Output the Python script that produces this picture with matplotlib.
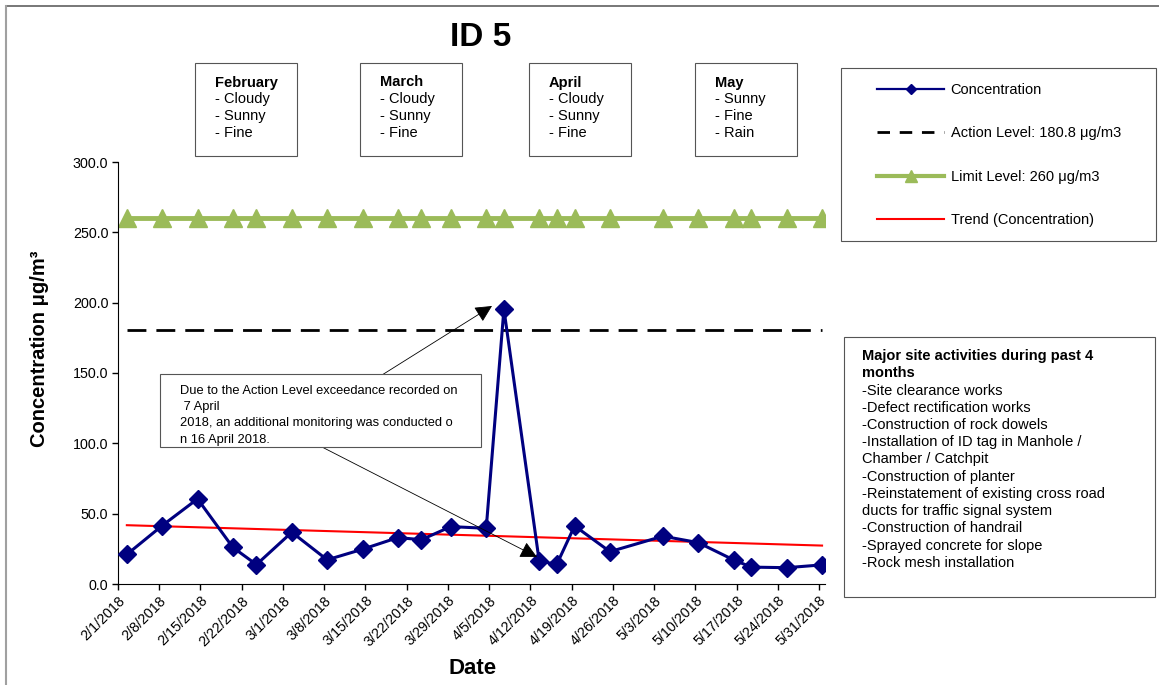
import matplotlib
matplotlib.use('Agg')
import matplotlib.pyplot as plt
from matplotlib.lines import Line2D
from matplotlib.patches import Rectangle
import numpy as np
import pandas as pd
import matplotlib.dates as mdates

plt.rcParams['font.family'] = ['Liberation Sans', 'DejaVu Sans']

# Monitoring data (ID 5)
dates = pd.to_datetime([
    '2018-02-02', '2018-02-08', '2018-02-14', '2018-02-20', '2018-02-24',
    '2018-03-02', '2018-03-08', '2018-03-14', '2018-03-20', '2018-03-24',
    '2018-03-29', '2018-04-04', '2018-04-07', '2018-04-13', '2018-04-16',
    '2018-04-19', '2018-04-25', '2018-05-04', '2018-05-10', '2018-05-16',
    '2018-05-19', '2018-05-25', '2018-05-31'])
concentration = [21.0, 41.5, 60.5, 26.0, 13.8, 36.8, 17.2, 24.7, 33.0, 31.5,
                 40.8, 39.6, 195.4, 16.0, 14.2, 41.3, 23.0, 34.0, 29.4, 17.1,
                 12.0, 11.6, 13.6]
action_level = 180.8
limit_level = 260

months = ['February', 'March', 'April', 'May']
weather = [['Cloudy', 'Sunny', 'Fine'],
           ['Cloudy', 'Sunny', 'Fine'],
           ['Cloudy', 'Sunny', 'Fine'],
           ['Sunny', 'Fine', 'Rain']]

activities = ['Major site activities during past 4', 'months',
              '-Site clearance works',
              '-Defect rectification works',
              '-Construction of rock dowels',
              '-Installation of ID tag in Manhole /',
              'Chamber / Catchpit',
              '-Construction of planter',
              '-Reinstatement of existing cross road',
              'ducts for traffic signal system',
              '-Construction of handrail',
              '-Sprayed concrete for slope',
              '-Rock mesh installation']

note_lines = ['Due to the Action Level exceedance recorded on',
              ' 7 April',
              '2018, an additional monitoring was conducted o',
              'n 16 April 2018.']

W, H = 1159, 685


def fx(px):
    return px / W


def fy(py):
    return 1 - py / H


fig = plt.figure(figsize=(W / 100, H / 100), dpi=100)
ax = fig.add_axes([fx(118), fy(584), (825 - 118) / W, (584 - 162) / H])

# points sit in the middle of their day, like the Excel date axis
x = dates + pd.Timedelta(hours=12)
n = len(x)

ax.plot(x, [limit_level] * n, color='#9BBB59', lw=3.5, marker='^', ms=13.5,
        zorder=2)
ax.plot(x, [action_level] * n, color='black', lw=2, linestyle=(0, (6.8, 3.6)),
        zorder=2)
ax.plot(x, concentration, color='#000080', lw=2.2, marker='D', ms=9, zorder=4)

# linear trend of concentration
xn = mdates.date2num(x)
k, b = np.polyfit(xn, concentration, 1)
ax.plot(x[[0, -1]], k * xn[[0, -1]] + b, color='red', lw=1.5, zorder=3)

ax.set_xlim(pd.Timestamp('2018-02-01'), pd.Timestamp('2018-06-01'))
ax.set_ylim(0, 300)
ax.set_yticks(np.arange(0, 301, 50))
ax.set_yticklabels([f'{v:.1f}' for v in np.arange(0, 301, 50)])
ticks = pd.date_range('2018-02-01', '2018-05-31', freq='7D')
ax.set_xticks(ticks)
ax.set_xticklabels([f'{t.month}/{t.day}/{t.year}' for t in ticks],
                   rotation=45, ha='right', va='top', rotation_mode='anchor')
ax.tick_params(labelsize=10.3, length=4, width=1, direction='out', pad=3)
for s in ['top', 'right']:
    ax.spines[s].set_visible(False)

fig.text(fx(481), fy(38), 'ID 5', ha='center', va='center', fontsize=24,
         weight='bold')
fig.text(fx(40), fy(349), 'Concentration μg/m³', rotation=90, ha='center',
         va='center', fontsize=14.5, weight='bold')
fig.text(fx(473), fy(668), 'Date', ha='center', va='center', fontsize=16,
         weight='bold')

# month weather boxes
box_left = [195, 360, 529, 695]
for left, m, w in zip(box_left, months, weather):
    fig.add_artist(Rectangle((fx(left), fy(156)), 102 / W, 93 / H,
                             transform=fig.transFigure, fill=False,
                             edgecolor='#555555', lw=0.8))
    fig.text(fx(left + 20), fy(82.5), m, fontsize=10.5, weight='bold',
             va='center')
    for i, item in enumerate(w):
        fig.text(fx(left + 20), fy(99.5 + 16.7 * i), '- ' + item,
                 fontsize=10.5, va='center')

# legend
handles = [
    Line2D([], [], color='#000080', lw=1.6, marker='D', ms=5),
    Line2D([], [], color='black', lw=2, linestyle=(0, (4.5, 3.5))),
    Line2D([], [], color='#9BBB59', lw=3, marker='^', ms=8),
    Line2D([], [], color='red', lw=1.5),
]
labels = ['Concentration', 'Action Level: 180.8 μg/m3',
          'Limit Level: 260 μg/m3', 'Trend (Concentration)']
fig.add_artist(Rectangle((fx(841), fy(241)), 315 / W, 173 / H,
                         transform=fig.transFigure, fill=False,
                         edgecolor='#555555', lw=0.8))
fig.legend(handles, labels, loc='upper left', bbox_to_anchor=(fx(877), fy(83)),
           frameon=False, fontsize=10.5, borderpad=0, borderaxespad=0,
           handlelength=4.6, handletextpad=0.45, labelspacing=2.02,
           numpoints=1)

# activities box
fig.add_artist(Rectangle((fx(844), fy(597)), 311 / W, 260 / H,
                         transform=fig.transFigure, fill=False,
                         edgecolor='#555555', lw=0.8))
for i, line in enumerate(activities):
    fig.text(fx(862), fy(356 + 17.25 * i), line, fontsize=10.5, va='center',
             weight='bold' if i < 2 else 'normal')

# note box and arrows
fig.add_artist(Rectangle((fx(160), fy(447)), 321 / W, 73 / H,
                         transform=fig.transFigure, fill=True,
                         facecolor='white', edgecolor='#555555', lw=0.8,
                         zorder=5))
for i, line in enumerate(note_lines):
    fig.text(fx(180), fy(391 + 16.2 * i), line, fontsize=9.3, va='center',
             zorder=6)
arrow = dict(arrowstyle='-|>', color='black', lw=0.6, mutation_scale=26,
             shrinkA=0, shrinkB=0)
ax.annotate('', xy=(fx(492), fy(306)), xycoords='figure fraction',
            xytext=(fx(382), fy(375)), textcoords='figure fraction',
            arrowprops=arrow, zorder=6)
ax.annotate('', xy=(fx(537), fy(557)), xycoords='figure fraction',
            xytext=(fx(322), fy(447)), textcoords='figure fraction',
            arrowprops=arrow, zorder=6)

# outer frame
fig.add_artist(Line2D([fx(6), 1], [fy(6), fy(6)], transform=fig.transFigure,
                      color='#606060', lw=1.2))
fig.add_artist(Line2D([fx(6), fx(6)], [fy(6), 0], transform=fig.transFigure,
                      color='#a0a0a0', lw=1.5))

fig.savefig('out.png', dpi=100)
